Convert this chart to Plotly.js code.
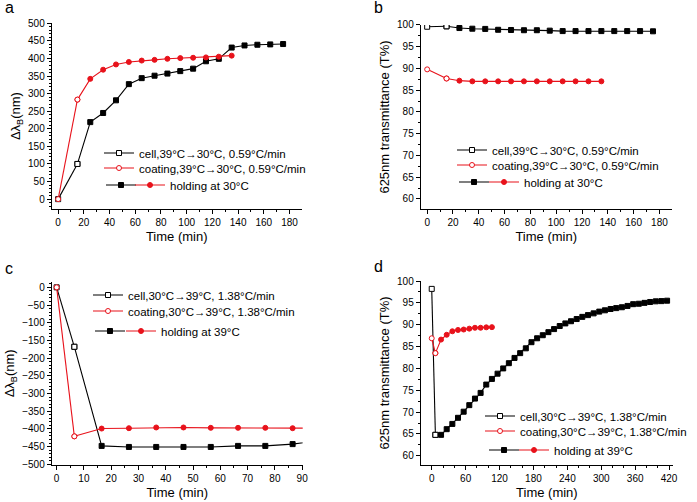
<!DOCTYPE html>
<html>
<head>
<meta charset="utf-8">
<script src="https://cdn.plot.ly/plotly-3.0.1.min.js"></script>
<style>
  body { margin: 0; background: #fff; }
  #plot { width: 697px; height: 502px; }
</style>
</head>
<body>
<div id="plot"></div>
<script>
// panel a : cooling 39 -> 30 C, wavelength shift
var aCellRampT = [0, 15];
var aCellRampY = [0, 100];
var aCellHoldT = [15, 25, 35, 45, 55, 65, 75, 85, 95, 105, 115, 125, 135, 145, 155, 165, 175];
var aCellHoldY = [100, 219, 245, 281, 327, 344, 351, 357, 364, 371, 392, 399, 431, 437, 439, 440, 441];
var aCoatRampT = [0, 15];
var aCoatRampY = [0, 283];
var aCoatHoldT = [15, 25, 35, 45, 55, 65, 75, 85, 95, 105, 115, 125, 135];
var aCoatHoldY = [283, 342, 368, 383, 390, 394, 396, 399, 401, 402, 403, 405, 408];

// panel b : cooling, transmittance
var bCellRampT = [0, 15];
var bCellRampY = [99.6, 99.7];
var bCellHoldT = [15, 25, 35, 45, 55, 65, 75, 85, 95, 105, 115, 125, 135, 145, 155, 165, 175];
var bCellHoldY = [99.7, 99.3, 99.15, 99.1, 98.9, 98.85, 98.8, 98.8, 98.7, 98.6, 98.6, 98.6, 98.6, 98.6, 98.6, 98.6, 98.55];
var bCoatRampT = [0, 15];
var bCoatRampY = [89.8, 87.7];
var bCoatHoldT = [15, 25, 35, 45, 55, 65, 75, 85, 95, 105, 115, 125, 135];
var bCoatHoldY = [87.7, 87.2, 87.05, 87.05, 87.05, 87.05, 87.05, 87.05, 87.05, 87.05, 87.05, 87.05, 87.05];

// panel c : heating 30 -> 39 C, wavelength shift
var cCellRampT = [0, 6.5];
var cCellRampY = [0, -168];
var cCellHoldT = [6.5, 16.5, 26.5, 36.5, 46.5, 56.5, 66.5, 76.5, 86.5, 96.5];
var cCellHoldY = [-168, -448, -451, -451, -451, -451, -448, -448, -443, -433];
var cCoatRampT = [0, 6.5];
var cCoatRampY = [0, -421];
var cCoatHoldT = [6.5, 16.5, 26.5, 36.5, 46.5, 56.5, 66.5, 76.5, 86.5, 96.5];
var cCoatHoldY = [-421, -399, -398, -396, -396, -397, -397, -397, -398, -398];

// panel d : heating, transmittance
var dCellRampT = [0, 6.5];
var dCellRampY = [98.2, 64.8];
var dCellHoldT = [6.5, 16.5, 26.5, 36.5, 46.5, 56.5, 66.5, 76.5, 86.5, 96.5, 106.5, 116.5, 126.5, 136.5,
  146.5, 156.5, 166.5, 176.5, 186.5, 196.5, 206.5, 216.5, 226.5, 236.5, 246.5, 256.5, 266.5, 276.5,
  286.5, 296.5, 306.5, 316.5, 326.5, 336.5, 346.5, 356.5, 366.5, 376.5, 386.5, 396.5, 406.5, 416.5];
var dCellHoldY = [64.8, 64.8, 66.1, 67.3, 68.7, 70.1, 71.6, 73.1, 74.4, 76.3, 77.6, 78.8, 80.0, 81.2,
  82.4, 83.5, 84.6, 86.0, 86.9, 87.6, 88.3, 89.0, 89.7, 90.3, 90.8, 91.3, 91.8, 92.2,
  92.6, 93.0, 93.3, 93.6, 93.8, 94.0, 94.3, 94.7, 94.8, 95.0, 95.2, 95.35, 95.4, 95.5];
var dCoatRampT = [0, 6.5];
var dCoatRampY = [86.9, 83.5];
var dCoatHoldT = [6.5, 16.5, 26.5, 36.5, 46.5, 56.5, 66.5, 76.5, 86.5, 96.5, 106.5];
var dCoatHoldY = [83.5, 86.6, 87.7, 88.5, 88.8, 88.9, 89.1, 89.3, 89.3, 89.4, 89.45];

var cellNames = ["cell,39°C→30°C, 0.59°C/min", "cell,39°C→30°C, 0.59°C/min",
                 "cell,30°C→39°C, 1.38°C/min", "cell,30°C→39°C, 1.38°C/min"];
var coatNames = ["coating,39°C→30°C, 0.59°C/min", "coating,39°C→30°C, 0.59°C/min",
                 "coating,30°C→39°C, 1.38°C/min", "coating,30°C→39°C, 1.38°C/min"];
var holdNames = ["holding at 30°C", "holding at 30°C", "holding at 39°C", "holding at 39°C"];

var FONT = "Arial, 'Liberation Sans', sans-serif";
var RED = "#e8121b";

function hold(t, y, color, sym, ax, leg, name) {
  return {
    x: t, y: y, xaxis: "x" + ax, yaxis: "y" + ax,
    mode: "lines+markers", type: "scatter", name: name, legend: leg,
    line: {color: color, width: 1.1},
    marker: {symbol: sym, size: 5, color: color, line: {color: color, width: 1}},
    cliponaxis: true
  };
}
function ramp(t, y, color, sym, ax, leg, name) {
  return {
    x: t, y: y, xaxis: "x" + ax, yaxis: "y" + ax,
    mode: "lines+markers", type: "scatter", name: name, legend: leg,
    line: {color: color, width: 1.1},
    marker: {symbol: sym, size: 5, color: "white", line: {color: color, width: 1}},
    cliponaxis: true
  };
}

var sets = [
  [aCellRampT, aCellRampY, aCellHoldT, aCellHoldY, aCoatRampT, aCoatRampY, aCoatHoldT, aCoatHoldY],
  [bCellRampT, bCellRampY, bCellHoldT, bCellHoldY, bCoatRampT, bCoatRampY, bCoatHoldT, bCoatHoldY],
  [cCellRampT, cCellRampY, cCellHoldT, cCellHoldY, cCoatRampT, cCoatRampY, cCoatHoldT, cCoatHoldY],
  [dCellRampT, dCellRampY, dCellHoldT, dCellHoldY, dCoatRampT, dCoatRampY, dCoatHoldT, dCoatHoldY]
];

var data = [];
sets.forEach(function (s, i) {
  var ax = i === 0 ? "" : String(i + 1);
  var n = i * 4;
  var l = function (k) { var id = n + k; return id === 1 ? "legend" : "legend" + id; };
  data.push(hold(s[2], s[3], "black", "square", ax, l(3), " "));
  data.push(hold(s[6], s[7], RED, "circle", ax, l(4), holdNames[i]));
  data.push(ramp(s[0], s[1], "black", "square", ax, l(1), cellNames[i]));
  data.push(ramp(s[4], s[5], RED, "circle", ax, l(2), coatNames[i]));
});

// legend rows: [symbol left px, row centre px]
var legPos = [
  [[104, 153], [104, 168], [106, 185], [135, 185]],
  [[457, 150], [457, 165], [459, 182], [489, 182]],
  [[93, 295], [93, 311], [95, 331], [126, 331]],
  [[485, 416], [485, 431], [489, 450], [519, 450]]
];

var W = 697, H = 502;
var layout = {
  width: W, height: H,
  margin: {l: 0, r: 0, t: 0, b: 0, autoexpand: false},
  paper_bgcolor: "white", plot_bgcolor: "white",
  font: {family: FONT, size: 10, color: "black"},
  showlegend: true,
  annotations: [
    {text: "a", x: 3 / W, y: 1 - 8 / H},
    {text: "b", x: 372 / W, y: 1 - 8 / H},
    {text: "c", x: 3 / W, y: 1 - 268 / H},
    {text: "d", x: 372 / W, y: 1 - 266 / H}
  ].map(function (a) {
    return Object.assign(a, {xref: "paper", yref: "paper", xanchor: "left", yanchor: "middle",
      showarrow: false, font: {family: FONT, size: 16, color: "black"}});
  })
};

legPos.forEach(function (p, i) {
  p.forEach(function (q, k) {
    var id = i * 4 + k + 1;
    var key = id === 1 ? "legend" : "legend" + id;
    layout[key] = {
      x: (q[0] - 5) / W, y: 1 - q[1] / H, xanchor: "left", yanchor: "middle",
      orientation: "h", bgcolor: "rgba(0,0,0,0)", borderwidth: 0,
      font: {family: FONT, size: 11.5, color: "black"}
    };
  });
});

function axis(domain, range, dtick, minor, anchor, title) {
  return {
    domain: domain, range: range, anchor: anchor, dtick: dtick, tick0: 0,
    showline: true, linecolor: "black", linewidth: 1, mirror: false,
    ticks: "outside", ticklen: 4, tickwidth: 1, tickcolor: "black",
    minor: {dtick: minor, ticks: "outside", ticklen: 2, tickcolor: "black"},
    showgrid: false, zeroline: false, automargin: false,
    tickfont: {family: FONT, size: 10, color: "black"},
    title: {text: title, font: {family: FONT, size: 13, color: "black"}, standoff: 4}
  };
}

var TIME = "Time (min)";
var SHIFT = "Δλ<sub>B</sub>(nm)";
var TRANS = "625nm transmittance (T%)";

layout.xaxis = axis([0.0742, 0.4329], [-5, 189.5], 20, 10, "y", TIME);
layout.yaxis = axis([0.5837, 0.9536], [-28, 500], 50, 10, "x", SHIFT);
layout.xaxis2 = axis([0.6036, 0.9637], [-5, 189.5], 20, 10, "y2", TIME);
layout.yaxis2 = axis([0.5837, 0.9502], [57.7, 100], 5, 2.5, "x2", TRANS);
layout.xaxis3 = axis([0.0742, 0.4343], [-1.8, 90.2], 10, 5, "y3", TIME);
layout.yaxis3 = axis([0.0737, 0.4389], [-502, 16], 50, 10, "x3", SHIFT);
layout.xaxis4 = axis([0.6036, 0.9656], [-19.5, 427], 60, 20, "y4", TIME);
layout.yaxis4 = axis([0.0737, 0.4402], [57.9, 100], 5, 2.5, "x4", TRANS);

Plotly.newPlot("plot", data, layout, {staticPlot: true});
</script>
</body>
</html>
